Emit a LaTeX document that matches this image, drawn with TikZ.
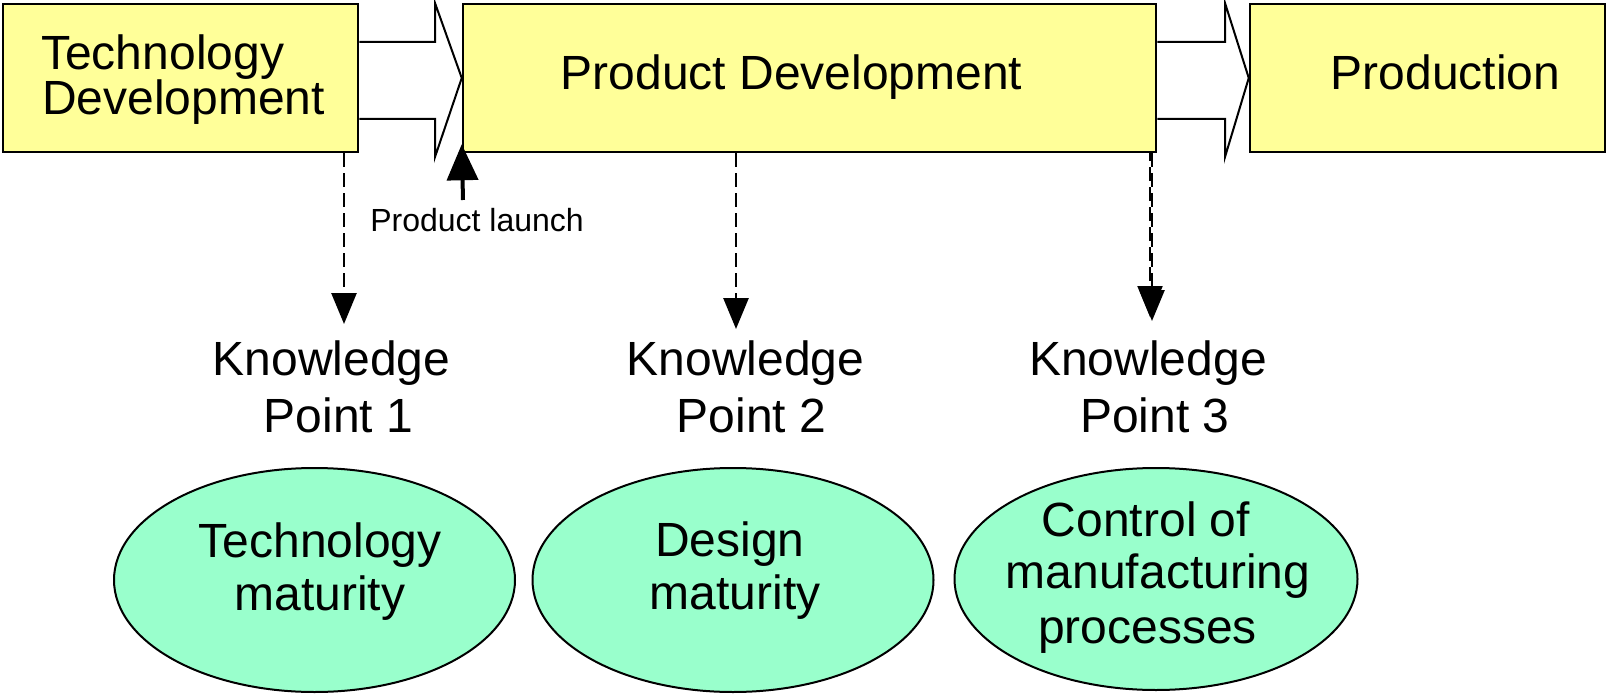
\documentclass[tikz,border=0pt]{standalone}
\usepackage{fontspec}
\setmainfont{Liberation Sans}
\usetikzlibrary{shapes.geometric,arrows.meta}
\definecolor{boxyellow}{HTML}{FFFF99}
\definecolor{ellgreen}{HTML}{99FFCC}
\begin{document}
\begin{tikzpicture}[x=1pt,y=-1pt,
 stagebox/.style={draw=black,line width=2.5pt,fill=boxyellow,rectangle,inner sep=0pt},
 blockarrow/.style={draw=black,line width=2pt,fill=white,line join=miter},
 goal/.style={draw=black,line width=2pt,fill=ellgreen,ellipse,inner sep=0pt,minimum width=401pt,minimum height=224pt},
 big/.style={font=\fontsize{48}{48}\selectfont,inner sep=0pt,anchor=base},
 small/.style={font=\fontsize{32}{32}\selectfont,inner sep=0pt,anchor=base},
 kparrow/.style={line width=2.7pt,dash pattern=on 14pt off 6pt,-{Triangle[width=25pt,length=31pt]}},
 launcharrow/.style={line width=4pt,-{Triangle[width=31pt,length=36pt]}}]
\useasboundingbox (0,0) rectangle (1606,695);
\fill[white] (0,0) rectangle (1606,695);

% stage boxes
\node[stagebox,minimum width=355pt,minimum height=148pt] (td) at (180.5,78) {};
\node[stagebox,minimum width=693pt,minimum height=148pt] (pd) at (809.5,78) {};
\node[stagebox,minimum width=355pt,minimum height=148pt] (prod) at (1427.5,78) {};

% block arrows between stages
\draw[blockarrow] (td.east |- 0,42) -- (435,42) -- (435,3) -- (pd.west) -- (435,157) -- (435,119) -- (td.east |- 0,119);
\draw[blockarrow] (pd.east |- 0,42) -- (1225,42) -- (1225,3) -- (prod.west) -- (1225,157) -- (1225,119) -- (pd.east |- 0,119);

% stage texts
\node[big,anchor=base west] (tdt1) at (41,69.5) {Technology};
\node[big,anchor=base west] (tdt2) at (42,115) {Development};
\node[big] (pdt) at (791.5,90) {Product Development};
\node[big] (prodt) at (1445.5,90) {Production};

% product launch
\coordinate (launchtail) at (463,200);
\draw[launcharrow] (launchtail) -- ([yshift=9pt]pd.south west);
\node[small] (launch) at (477,232) {Product launch};

% knowledge point arrows
\coordinate (k1tip) at (344,324);
\coordinate (k2tip) at (736,329);
\coordinate (k3tip) at (1152,321);
\coordinate (k3tipb) at (1150,317);
\draw[kparrow] (td.south -| k1tip) -- (k1tip);
\draw[kparrow] (pd.south -| k2tip) -- (k2tip);
\draw[kparrow,dash phase=6pt,line width=2pt] (pd.south -| k3tipb) -- (k3tipb);
\draw[kparrow] (pd.south -| k3tip) -- (k3tip);

% knowledge point labels
\node[big] (kp1a) at (331.5,375) {Knowledge};
\node[big] (kp1b) at (338.5,432.5) {Point 1};
\node[big] (kp2a) at (745.5,375) {Knowledge};
\node[big] (kp2b) at (751.5,432.5) {Point 2};
\node[big] (kp3a) at (1148,375) {Knowledge};
\node[big] (kp3b) at (1155,432.5) {Point 3};

% ellipses
\node[goal] (e1) at (314.5,580) {};
\node[goal] (e2) at (733,580) {};
\node[goal,minimum width=403pt,minimum height=222pt] (e3) at (1156,579) {};
\node[big] (e1a) at (320,557) {Technology};
\node[big] (e1b) at (320,610) {maturity};
\node[big] (e2a) at (730,556) {Design};
\node[big] (e2b) at (735,609) {maturity};
\node[big] (e3a) at (1146,536) {Control of};
\node[big] (e3b) at (1158,588) {manufacturing};
\node[big] (e3c) at (1147.5,643) {processes};
\end{tikzpicture}
\end{document}
